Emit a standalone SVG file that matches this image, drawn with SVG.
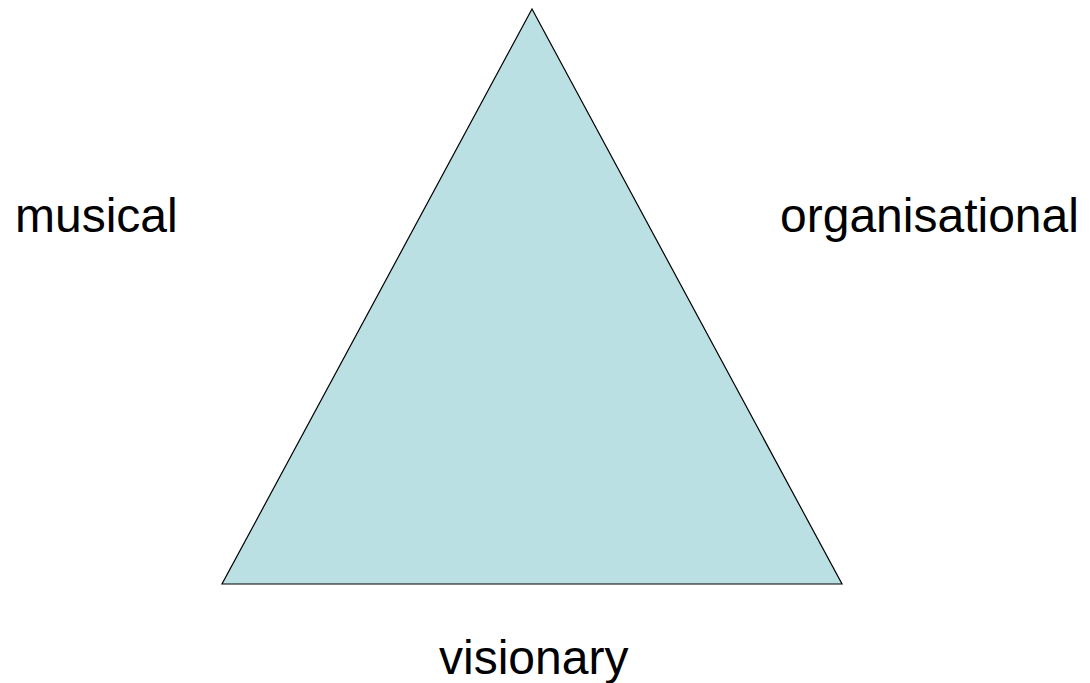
<svg xmlns="http://www.w3.org/2000/svg" width="1090" height="683" viewBox="0 0 1090 683">
<style>
.lbl{font-family:"Liberation Sans",Arial,sans-serif;font-size:48px;fill:#000}
</style>
<rect width="1090" height="683" fill="#fff"/>
<g id="triangle">
<polygon points="532,9 842,584 222,584" fill="#BBE0E3" stroke="#000" stroke-width="1.2" stroke-linejoin="miter"/>
</g>
<g id="musical"><text class="lbl" x="15" y="232">musical</text></g>
<g id="organisational"><text class="lbl" x="780" y="232">organisational</text></g>
<g id="visionary"><text class="lbl" x="439" y="674">visionary</text></g>
<g id="connectors"></g>
</svg>
